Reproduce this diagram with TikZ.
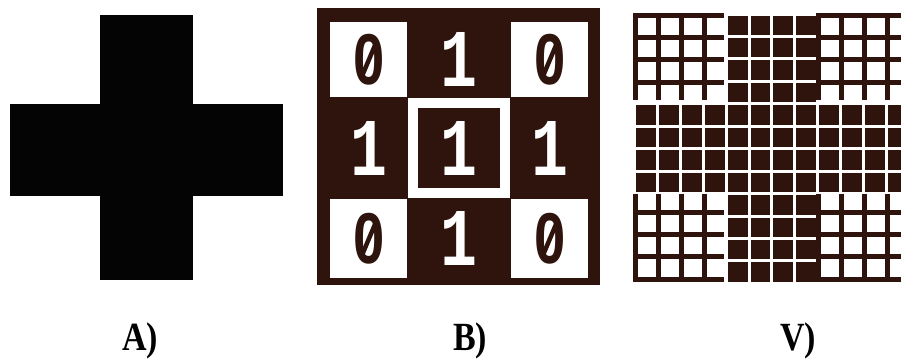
\documentclass[tikz,border=0pt]{standalone}
\usepackage{fontspec}
\newfontfamily\digitfont{Liberation Mono}
\newfontfamily\zerofont{Liberation Sans}
\newfontfamily\labelfont{Liberation Serif}
\definecolor{ink}{RGB}{46,20,12}
\definecolor{crossblack}{RGB}{4,4,4}
\begin{document}
\begin{tikzpicture}[x=1pt,y=-1pt,
  zerodigit/.style={font=\zerofont\bfseries\fontsize{72}{72}\selectfont, text=ink, inner sep=0pt, xscale=0.78},
  zeroslash/.style={draw=ink, line width=4.5pt, line cap=butt},
  onedigit/.style={font=\digitfont\bfseries\fontsize{82}{82}\selectfont, text=white, inner sep=0pt, xscale=0.75},
  panellabel/.style={font=\labelfont\bfseries\fontsize{40}{40}\selectfont, inner sep=0pt, anchor=base, xscale=0.85}]
\useasboundingbox[fill=white] (0,0) rectangle (901,359);
% ---------- A) cross
\fill[crossblack] (100,15) rectangle (193,280);
\fill[crossblack] (10,104) rectangle (283,196);
% ---------- B) 3x3 matrix
\fill[ink] (317,8) rectangle (600,285);
\fill[white] (330,22) rectangle (407,97);
\fill[white] (511,22) rectangle (588,97);
\fill[white] (330,199) rectangle (407,278);
\fill[white] (511,199) rectangle (588,278);
\fill[white] (408,98) rectangle (510,198);
\fill[ink] (418,108) rectangle (500,188);
\node[zerodigit] (b00) at (369,59.5) {0};
\node[onedigit]  (b01) at (459,59.5) {1};
\node[zerodigit] (b02) at (550,59.5) {0};
\node[onedigit]  (b10) at (369,148) {1};
\node[onedigit]  (b11) at (459,148) {1};
\node[onedigit]  (b12) at (550,148) {1};
\node[zerodigit] (b20) at (369,238.5) {0};
\node[onedigit]  (b21) at (459,238.5) {1};
\node[zerodigit] (b22) at (550,238.5) {0};
\foreach \n in {b00,b02,b20,b22}{
  \draw[zeroslash] ([shift={(-8,19)}]\n.center) -- ([shift={(8,-19)}]\n.center);
}
% ---------- V) 12x12 pixel grid
\foreach \r in {4,...,7}{
  \foreach \c in {0,...,11}{
    \fill[ink] ({633+22.9*\c+3},{12.5+22.45*\r+3}) rectangle ({633+22.9*(\c+1)},{12.5+22.45*(\r+1)});
  }
}
\foreach \r in {0,1,2,3,8,9,10,11}{
  \foreach \c in {4,...,7}{
    \fill[ink] ({633+22.9*\c+3},{12.5+22.45*\r+3}) rectangle ({633+22.9*(\c+1)},{12.5+22.45*(\r+1)});
  }
}
% top-left
\foreach \c in {0,...,3}{
  \fill[ink] ({633+22.9*\c},12.5) rectangle ({633+22.9*\c+5},{12.5+22.45*4-2});
}
\foreach \r in {0,...,3}{
  \fill[ink] (633,{12.5+22.45*\r}) rectangle ({633+22.9*4-1},{12.5+22.45*\r+5});
}
% top-right
\foreach \c in {8,...,12}{
  \fill[ink] ({633+22.9*\c},12.5) rectangle ({633+22.9*\c+5},{12.5+22.45*4-2});
}
\foreach \r in {0,...,3}{
  \fill[ink] ({633+22.9*8},{12.5+22.45*\r}) rectangle ({633+22.9*12+5},{12.5+22.45*\r+5});
}
% bottom-left
\foreach \c in {0,...,3}{
  \fill[ink] ({633+22.9*\c},{12.5+22.45*8+2}) rectangle ({633+22.9*\c+5},{12.5+22.45*12});
}
\foreach \r in {8,...,11}{
  \fill[ink] (633,{12.5+22.45*(\r+1)-5}) rectangle ({633+22.9*4-1},{12.5+22.45*(\r+1)});
}
% bottom-right
\foreach \c in {8,...,12}{
  \fill[ink] ({633+22.9*\c},{12.5+22.45*8+2}) rectangle ({633+22.9*\c+5},{12.5+22.45*12});
}
\foreach \r in {8,...,11}{
  \fill[ink] ({633+22.9*8},{12.5+22.45*(\r+1)-5}) rectangle ({633+22.9*12+5},{12.5+22.45*(\r+1)});
}
% ---------- labels
\node[panellabel] (la) at (140,350) {A)};
\node[panellabel] (lb) at (470,350) {B)};
\node[panellabel] (lv) at (798,350) {V)};
\end{tikzpicture}
\end{document}
